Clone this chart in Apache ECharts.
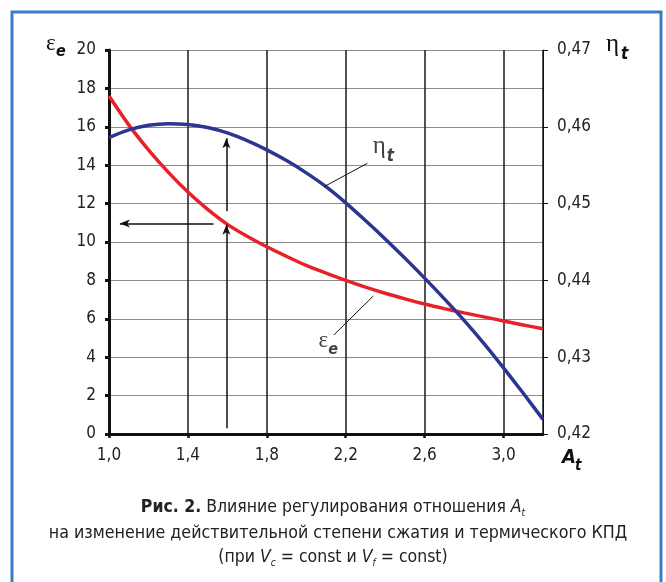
<!DOCTYPE html>
<html>
<head>
<meta charset="utf-8">
<script src="https://cdn.jsdelivr.net/npm/echarts@6/dist/echarts.min.js"></script>
<style>
html,body{margin:0;padding:0;background:#fff;}
#c{width:666px;height:582px;}
</style>
</head>
<body>
<div id="c"></div>
<script>
// ---- data ----
const xValues = [1.0, 1.1, 1.2, 1.3, 1.4, 1.5, 1.6, 1.7, 1.8, 1.9, 2.0, 2.1, 2.2, 2.3, 2.4, 2.5, 2.6, 2.7, 2.8, 2.9, 3.0, 3.1, 3.2];
const epsE    = [17.6, 16.1, 14.8, 13.64, 12.6, 11.7, 10.92, 10.3, 9.75, 9.25, 8.78, 8.38, 8.0, 7.65, 7.33, 7.04, 6.77, 6.53, 6.31, 6.1, 5.89, 5.68, 5.48];
const etaT    = [0.4586, 0.4596, 0.4602, 0.4604, 0.4603, 0.4599, 0.4592, 0.4582, 0.4570, 0.4556, 0.4540, 0.4522, 0.4501, 0.4478, 0.4454, 0.4429, 0.4403, 0.4376, 0.4348, 0.4318, 0.4286, 0.4253, 0.4219];

const xTicks = [1.0, 1.4, 1.8, 2.2, 2.6, 3.0];
const leftTicks = [0, 2, 4, 6, 8, 10, 12, 14, 16, 18, 20];
const rightTicks = [0.42, 0.43, 0.44, 0.45, 0.46, 0.47];

// annotation arrows / leader lines (data coords on left axis)
const arrowUpLow  = [[1.595, 0.3], [1.595, 10.9]];
const arrowUpHigh = [[1.595, 11.6], [1.595, 15.4]];
const arrowLeft   = [[1.53, 10.97], [1.055, 10.97]];
const leaderEta   = [[2.09, 12.88], [2.31, 14.1]];
const leaderEps   = [[2.34, 7.19], [2.14, 5.16]];
// in-plot curve labels: main glyph and subscript anchors
const labelEtaMain = [2.337, 15.0];
const labelEtaSub  = [2.408, 14.45];
const labelEpsMain = [2.062, 4.84];
const labelEpsSub  = [2.112, 4.4];

const F = '"DejaVu Sans Condensed", "Liberation Sans Narrow", "Liberation Sans", sans-serif';
const G = '"Liberation Serif", "DejaVu Serif", serif';

const chart = echarts.init(document.getElementById('c'), null, {renderer: 'canvas'});

function txt(x, y, s, font) {
  return {type: 'text', z: 100, style: Object.assign({x: x, y: y, text: s, align: 'left', verticalAlign: 'middle', fill: '#111'}, font)};
}
const greek = {fontFamily: G, fontSize: 23};
const greekEta = {fontFamily: G, fontSize: 25};
const subBI = {fontFamily: F, fontSize: 16, fontStyle: 'italic', fontWeight: 'bold'};

const option = {
  backgroundColor: '#fff',
  animation: false,
  grid: {left: 109, right: 123, top: 50, bottom: 148, containLabel: false},
  xAxis: {
    type: 'value', min: 1.0, max: 3.2, interval: 0.4,
    axisLine: {show: true, onZero: false, lineStyle: {color: '#111', width: 3}},
    axisTick: {show: true, length: 4, lineStyle: {color: '#111', width: 2.5}},
    axisLabel: {show: true, margin: 13, showMaxLabel: false, color: '#222', fontFamily: F, fontSize: 17,
      formatter: v => v.toFixed(1).replace('.', ',')},
    splitLine: {show: true, lineStyle: {color: '#1a1a1a', width: 1.5}}
  },
  yAxis: [
    {
      type: 'value', min: 0, max: 20, interval: 2, position: 'left',
      axisLine: {show: true, onZero: false, lineStyle: {color: '#111', width: 3}},
      axisTick: {show: true, length: 4, lineStyle: {color: '#111', width: 3}},
      axisLabel: {margin: 13, color: '#222', fontFamily: F, fontSize: 17, formatter: v => String(Math.round(v))},
      splitLine: {show: true, lineStyle: {color: '#8c8c8c', width: 1}}
    },
    {
      type: 'value', min: 0.42, max: 0.47, interval: 0.01, position: 'right',
      axisLine: {show: true, onZero: false, lineStyle: {color: '#111', width: 1}},
      axisTick: {show: true, length: 5, lineStyle: {color: '#111', width: 1}},
      axisLabel: {margin: 14, color: '#222', fontFamily: F, fontSize: 17,
        formatter: v => v.toFixed(2).replace('.', ',')},
      splitLine: {show: false}
    }
  ],
  series: [
    {
      name: 'eps', type: 'line', yAxisIndex: 0, smooth: 0.3, showSymbol: false, z: 3,
      data: xValues.map((x, i) => [x, epsE[i]]),
      lineStyle: {color: '#e52229', width: 3.5}
    },
    {
      name: 'eta', type: 'line', yAxisIndex: 1, smooth: 0.3, showSymbol: false, z: 4,
      data: xValues.map((x, i) => [x, etaT[i]]),
      lineStyle: {color: '#2b3592', width: 3.5}
    },
    {
      name: 'annot', type: 'line', yAxisIndex: 0, data: [], z: 5,
      markLine: {
        silent: true, animation: false, symbolSize: [6, 10],
        label: {show: false},
        lineStyle: {color: '#111', width: 1.5, type: 'solid'},
        data: [
          [{coord: arrowUpLow[0], symbol: 'none'}, {coord: arrowUpLow[1], symbol: 'arrow'}],
          [{coord: arrowUpHigh[0], symbol: 'none'}, {coord: arrowUpHigh[1], symbol: 'arrow'}],
          [{coord: arrowLeft[0], symbol: 'none'}, {coord: arrowLeft[1], symbol: 'arrow'}],
          [{coord: leaderEta[0], symbol: 'none', lineStyle: {width: 1}}, {coord: leaderEta[1], symbol: 'none'}],
          [{coord: leaderEps[0], symbol: 'none', lineStyle: {width: 1}}, {coord: leaderEps[1], symbol: 'none'}]
        ]
      }
    },
    {
      name: 'labels', type: 'scatter', yAxisIndex: 0, symbolSize: 0, z: 6, silent: true,
      label: {show: true, position: [0, 0], align: 'left', verticalAlign: 'middle', color: '#111'},
      data: [
        {value: labelEtaMain, label: {formatter: 'η', fontFamily: G, fontSize: 25}},
        {value: labelEtaSub, label: {formatter: 't', fontFamily: F, fontSize: 17, fontStyle: 'italic', fontWeight: 'bold'}},
        {value: labelEpsMain, label: {formatter: 'ε', fontFamily: G, fontSize: 23}},
        {value: labelEpsSub, label: {formatter: 'e', fontFamily: F, fontSize: 16, fontStyle: 'italic', fontWeight: 'bold'}}
      ]
    }
  ],
  graphic: [
    {type: 'rect', shape: {x: 12, y: 12, width: 649, height: 590}, style: {fill: 'none', stroke: '#3b7cc3', lineWidth: 3}, z: 100},
    txt(46, 44, 'ε', greek),
    txt(56, 52, 'e', subBI),
    txt(606, 44, 'η', greekEta),
    txt(621, 55, 't', Object.assign({}, subBI, {fontSize: 17})),
    txt(562, 458, 'A', {fontFamily: F, fontSize: 20, fontStyle: 'italic', fontWeight: 'bold'}),
    txt(575, 466, 't', Object.assign({}, subBI, {fontSize: 15})),
    {type: 'text', z: 100, style: {x: 333, y: 507, align: 'center', verticalAlign: 'middle',
      text: '{b|Рис. 2.}{n| Влияние регулирования отношения }{i|A}{s|t}',
      rich: {
        b: {fontFamily: F, fontSize: 17.5, fontWeight: 'bold', fill: '#222', lineHeight: 22, verticalAlign: 'middle'},
        n: {fontFamily: F, fontSize: 17.5, fill: '#222', lineHeight: 22, verticalAlign: 'middle'},
        i: {fontFamily: F, fontSize: 17.5, fontStyle: 'italic', fill: '#222', lineHeight: 22, verticalAlign: 'middle'},
        s: {fontFamily: F, fontSize: 10, fontStyle: 'italic', fill: '#222', lineHeight: 10, verticalAlign: 'bottom'}
      }}},
    {type: 'text', z: 100, style: {x: 338, y: 533, align: 'center', verticalAlign: 'middle',
      text: 'на изменение действительной степени сжатия и термического КПД',
      fontFamily: F, fontSize: 17.7, fill: '#222'}},
    {type: 'text', z: 100, style: {x: 333, y: 557, align: 'center', verticalAlign: 'middle',
      text: '{n|(при }{i|V}{s|c}{n| = const и }{i|V}{s|f}{n| = const)}',
      rich: {
        n: {fontFamily: F, fontSize: 17.5, fill: '#222', lineHeight: 22, verticalAlign: 'middle'},
        i: {fontFamily: F, fontSize: 17.5, fontStyle: 'italic', fill: '#222', lineHeight: 22, verticalAlign: 'middle'},
        s: {fontFamily: F, fontSize: 10, fontStyle: 'italic', fill: '#222', lineHeight: 10, verticalAlign: 'bottom'}
      }}}
  ]
};
chart.setOption(option);
</script>
</body>
</html>
